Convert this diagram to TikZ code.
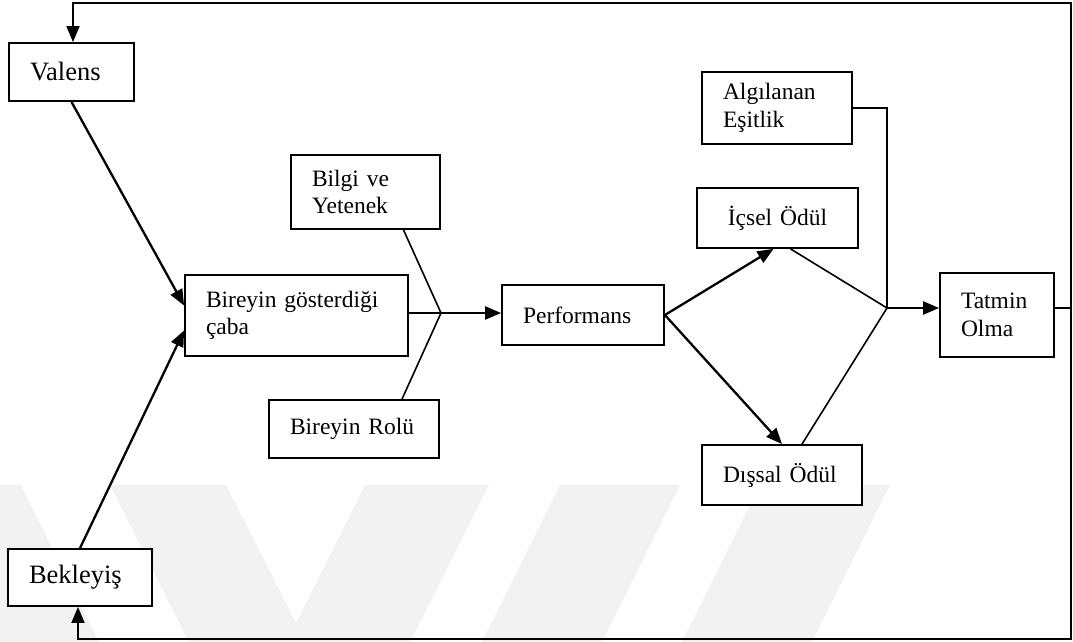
\documentclass[tikz,border=0pt]{standalone}
\usepackage{fontspec}
\setmainfont{Liberation Serif}
\usetikzlibrary{arrows.meta,calc}
\begin{document}
\begin{tikzpicture}[x=1pt,y=-1pt,
  box/.style={draw, line width=1.8pt, fill=white, inner xsep=21pt, inner ysep=0pt,
    align=left, font=\fontsize{23.5}{27.5}\selectfont},
  bigtext/.style={font=\fontsize{26.5}{31}\selectfont},
  heavy/.style={line width=2.3pt},
  light/.style={line width=1.6pt},
  tip/.style={-{Triangle[length=16pt,width=13pt]}},
  wm/.style={fill=black!5, draw=none}]
\useasboundingbox (0,0) rectangle (1073,642);
\fill[white] (0,0) rectangle (1073,642);
% faint watermark
\begin{scope}
\clip (0,0) rectangle (1073,642);
\fill[wm] (-100,485) -- (21,485) -- (99,642) -- (-22,642) -- cycle;
\fill[wm] (110,485) -- (226,485) -- (296,623) -- (365,485) -- (489,485) -- (410,642) -- (189,642) -- cycle;
\fill[wm] (560,485) -- (680,485) -- (602,642) -- (482,642) -- cycle;
\fill[wm] (760,485) -- (890,485) -- (812,642) -- (682,642) -- cycle;
\end{scope}
% boxes
\node[box, bigtext, minimum width=125pt, text width=83pt, minimum height=58pt] (valens) at (71.5,72) {Valens};
\node[box, minimum width=223pt, text width=181pt, minimum height=81pt] (bireyin) at (296.5,315.5) {Bireyin gösterdiği\\çaba};
\node[box, minimum width=149pt, text width=107pt, minimum height=74pt] (bilgi) at (365.5,192) {Bilgi ve\\Yetenek};
\node[box, minimum width=170pt, text width=128pt, minimum height=58pt] (rolu) at (354,429) {Bireyin Rolü};
\node[box, minimum width=162pt, text width=120pt, minimum height=60pt] (perf) at (583,315) {Performans};
\node[box, minimum width=150pt, text width=108pt, minimum height=72pt] (alg) at (777,108) {Algılanan\\Eşitlik};
\node[box, align=center, minimum width=161pt, text width=119pt, minimum height=60pt] (icsel) at (777.5,218) {İçsel Ödül};
\node[box, minimum width=160pt, text width=118pt, minimum height=60pt] (dissal) at (782,475) {Dışsal Ödül};
\node[box, minimum width=114pt, text width=72pt, minimum height=84pt] (tatmin) at (997,315) {Tatmin\\Olma};
\node[box, bigtext, minimum width=144pt, text width=102pt, minimum height=57pt] (bekleyis) at (80,577.5) {Bekleyiş};
% junctions and corners
\coordinate (J1) at (441,313);
\coordinate (J2) at (887,308);
\coordinate (tl) at (73,3);
\coordinate (tr) at (1071,3);
\coordinate (br) at (1071,639);
\coordinate (bl) at (78,639);
% connectors
\draw[heavy, tip] (valens.south) -- ($(bireyin.west)+(0,-10)$);
\draw[heavy, tip] (bekleyis.north) -- ($(bireyin.west)+(0,15)$);
\draw[heavy] (J1 -| bireyin.east) -- (J1);
\draw[heavy, tip] (J1) -- (J1 -| perf.west);
\draw[light] ($(bilgi.south)+(38,0)$) -- (J1);
\draw[light] ($(rolu.north)+(48,0)$) -- (J1);
\draw[heavy, tip] (perf.east) -- ($(icsel.south)+(-4,0)$);
\draw[heavy, tip] (perf.east) -- (dissal.north);
\draw[light] ($(icsel.south)+(13,0)$) -- (J2);
\draw[light] ($(dissal.north)+(20,0)$) -- (J2);
\draw[light] (alg.east) -| (J2);
\draw[heavy, tip] (J2) -- (J2 -| tatmin.west);
\draw[light, tip] (J2 -| tatmin.east) -- (J2 -| tr) -- (tr) -- (tl) -- (tl |- valens.north);
\draw[light, tip] (J2 -| tr) -- (br) -- (bl) -- (bl |- bekleyis.south);
\end{tikzpicture}
\end{document}
